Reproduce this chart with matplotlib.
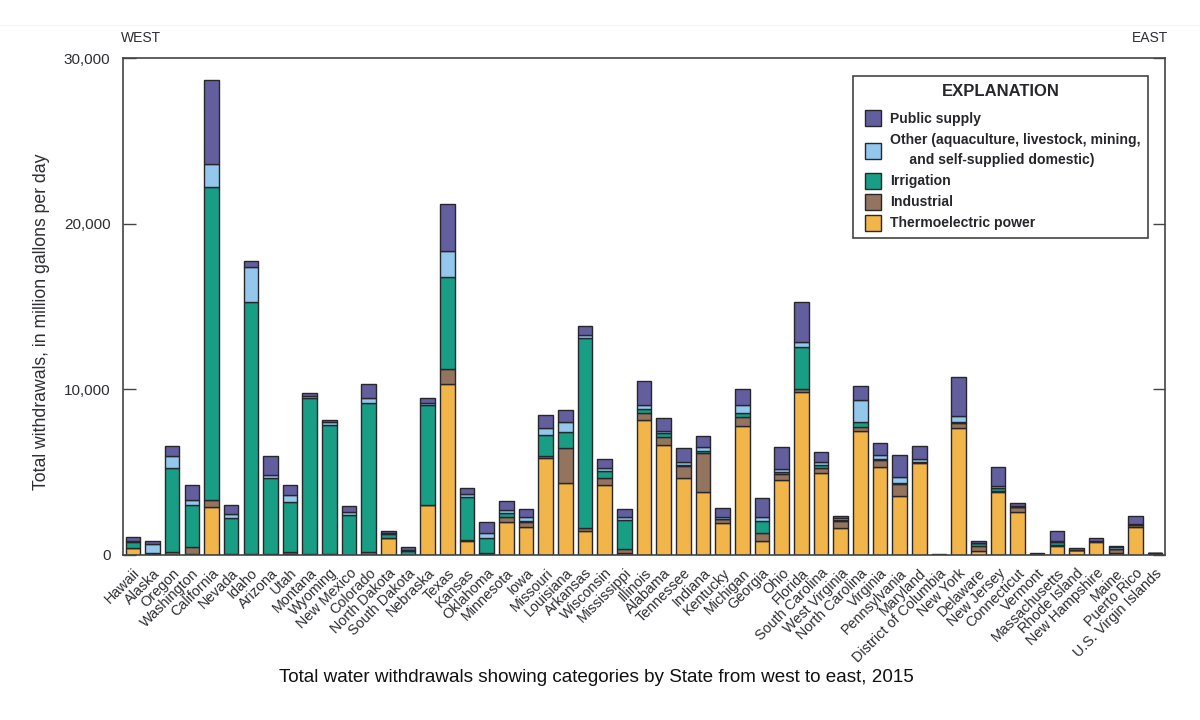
from matplotlib import pyplot as plt
from matplotlib.lines import Line2D
import numpy as np

plt.rcParams['font.family'] = ['Liberation Sans', 'DejaVu Sans']

# Labels, west to east
states = ["Hawaii", "Alaska", "Oregon", "Washington", "California", "Nevada", "Idaho", "Arizona",
          "Utah", "Montana", "Wyoming", "New Mexico", "Colorado", "North Dakota", "South Dakota",
          "Nebraska", "Texas", "Kansas", "Oklahoma", "Minnesota", "Iowa", "Missouri", "Louisiana",
          "Arkansas", "Wisconsin", "Mississippi", "Illinois", "Alabama", "Tennessee", "Indiana",
          "Kentucky", "Michigan", "Georgia", "Ohio", "Florida", "South Carolina", "West Virginia",
          "North Carolina", "Virginia", "Pennsylvania", "Maryland", "District of Columbia",
          "New York", "Delaware", "New Jersey", "Connecticut", "Vermont", "Massachusetts",
          "Rhode Island", "New Hampshire", "Maine", "Puerto Rico", "U.S. Virgin Islands"]

thermoelectric = [400, 30, 10, 50, 2900, 50, 20, 30, 50, 40, 50, 20, 30, 1000, 20, 3000, 10350, 850,
                  50, 2010, 1710, 5840, 4330, 1450, 4230, 150, 8150, 6640, 4630, 3825, 1910, 7810,
                  870, 4530, 9850, 4970, 1610, 7510, 5335, 3580, 5575, 10, 7690, 260, 3825, 2575,
                  20, 560, 280, 800, 100, 1710, 90]
industrial = [20, 50, 150, 450, 400, 20, 50, 40, 150, 30, 20, 10, 140, 40, 10, 20, 900, 30,
              100, 300, 300, 160, 2110, 160, 400, 210, 400, 470, 765, 2315, 245, 505,
              440, 345, 200, 265, 445, 240, 400, 690, 45, 10, 305, 300, 55, 305,
              10, 40, 20, 20, 260, 120, 2]
irrigation = [380, 20, 5090, 2500, 18900, 2180, 15230, 4580, 3000, 9430, 7780, 2370, 8980, 210, 220,
              6030, 5550, 2620, 900, 200, 20, 1250, 1010, 11490, 440, 1750, 260, 280, 45, 140,
              25, 280, 765, 125, 2500, 200, 60, 300, 60, 60, 20, 5, 55, 145, 150, 20,
              10, 200, 5, 5, 10, 20, 2]
other = [50, 560, 750, 350, 1400, 200, 2100, 150, 450, 120, 150, 200, 300, 50, 70, 150, 1550, 200,
         250, 200, 285, 400, 600, 200, 205, 205, 250, 120, 160, 265, 135, 465,
         240, 190, 300, 165, 100, 1310, 245, 360, 160, 5, 345, 15, 140, 40,
         20, 60, 15, 15, 130, 30, 2]
public_supply = [250, 170, 600, 900, 5100, 550, 350, 1150, 550, 160, 150, 350, 850, 150, 180, 280,
                 2850, 350, 700, 570, 445, 810, 710, 550, 525, 445, 1440, 745, 840, 660, 505, 990,
                 1110, 1355, 2450, 600, 160, 840, 705, 1350, 785, 20, 2355, 130, 1165, 180,
                 40, 606, 120, 160, 60, 495, 14]

# Colors
series = [("Thermoelectric power", thermoelectric, "#f1b54a"),
          ("Industrial", industrial, "#94745f"),
          ("Irrigation", irrigation, "#199e86"),
          ("Other (aquaculture, livestock, mining,\n     and self-supplied domestic)", other, "#93c7ec"),
          ("Public supply", public_supply, "#635f9f")]

text_color = "#2e2e33"

fig = plt.figure(figsize=(12, 7.2), dpi=100)
ax = fig.add_axes([123 / 1200, 1 - 555 / 720, 1042 / 1200, 497 / 720])

x = np.arange(len(states))
bottom = np.zeros(len(states))
handles = []
for name, values, color in series:
    ax.bar(x, values, 0.74, bottom=bottom, color=color, edgecolor="#26262b", linewidth=1.0)
    bottom += np.array(values)
    handles.append(Line2D([], [], linestyle="", marker="s", markersize=11, markerfacecolor=color,
                          markeredgecolor="#26262b", markeredgewidth=1.0, label=name))

ax.set_xlim(-0.5, len(states) - 0.5)
ax.set_ylim(0, 30000)
ax.set_yticks([0, 10000, 20000, 30000])
ax.set_yticklabels(["0", "10,000", "20,000", "30,000"], fontsize=11, color=text_color)
ax.tick_params(axis="y", direction="in", length=9, width=1.0, color="#444444", right=True, pad=9)
ax.set_xticks(x)
ax.set_xticklabels(states, rotation=45, ha="right", va="top", rotation_mode="anchor",
                   fontsize=10.4, color=text_color)
ax.tick_params(axis="x", length=0, pad=8)
for spine in ax.spines.values():
    spine.set_color("#444444")
    spine.set_linewidth(1.2)

ax.set_ylabel("Total withdrawals, in million gallons per day", fontsize=12.7, color=text_color)
ax.yaxis.set_label_coords(-73 / 1042, 0.469)

fig.text(121 / 1200, 1 - 38 / 720, "WEST", fontsize=10, color=text_color, va="center")
fig.text(1168 / 1200, 1 - 38 / 720, "EAST", fontsize=10, color=text_color, va="center", ha="right")
fig.text(596 / 1200, 1 - 678 / 720, "Total water withdrawals showing categories by State from west to east, 2015",
         fontsize=13.6, color="#111111", ha="center", va="center")
fig.add_artist(Line2D([0, 1], [1 - 25 / 720, 1 - 25 / 720], color="#f6f6f6", linewidth=1))

leg = ax.legend(handles[::-1], [h.get_label() for h in handles[::-1]], loc="upper left",
                bbox_to_anchor=(853 / 1200, 1 - 76 / 720), bbox_transform=fig.transFigure,
                borderaxespad=0, fancybox=False, framealpha=1, edgecolor="#444444",
                prop={"size": 10.05, "weight": "bold"}, title="EXPLANATION",
                title_fontproperties={"size": 12, "weight": "bold"},
                labelspacing=0.5, handlelength=1.75, handletextpad=0.35, borderpad=0.55,
                labelcolor="#26262b")
leg.get_frame().set_linewidth(1.2)
leg.get_title().set_color("#26262b")
leg._legend_box.sep = 9.5
for t in leg.get_texts():
    t.set_linespacing(1.6)

plt.savefig("out.png", dpi=100)
